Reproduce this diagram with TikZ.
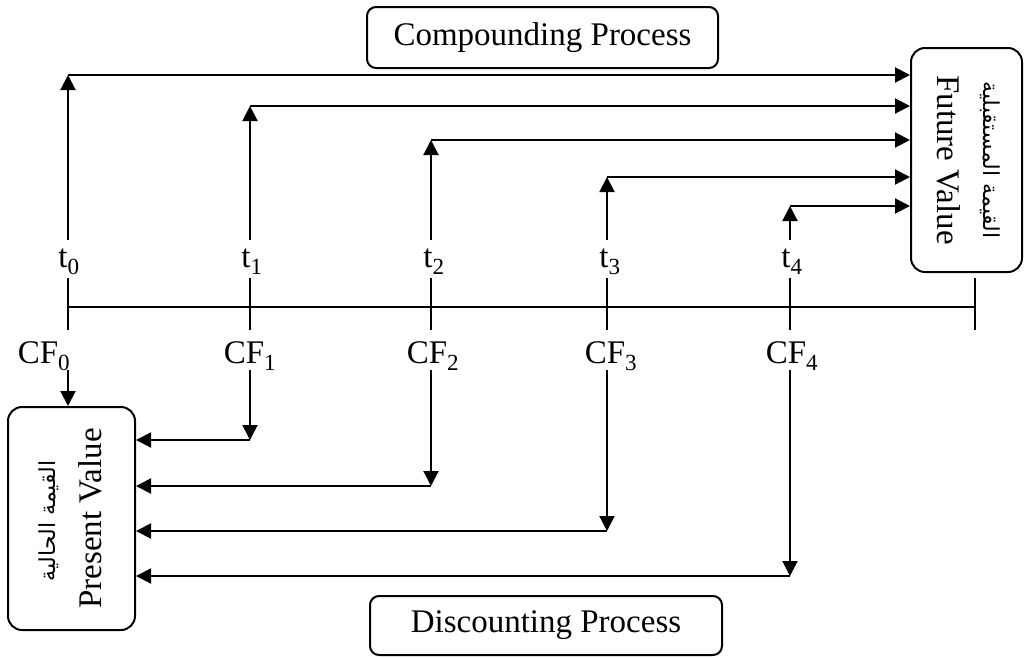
\documentclass[tikz,border=0pt]{standalone}
\usepackage{fontspec}
\setmainfont{Liberation Serif}
\newfontfamily\arabicfont[Script=Arabic]{DejaVu Sans}
\TeXXeTstate=1
\usetikzlibrary{arrows.meta}

\begin{document}
\begin{tikzpicture}[x=1pt, y=-1pt, line width=2pt,
  box/.style={draw, line width=2pt, rounded corners=14pt, inner sep=0pt},
  txt/.style={font=\fontsize{33}{38}\selectfont, inner sep=0pt},
  artxt/.style={font=\arabicfont\fontsize{22}{26}\selectfont, inner sep=0pt},
  flow/.style={-{Triangle[length=15pt,width=15pt]}},
]
\useasboundingbox (0,0) rectangle (1025,657);

% process captions
\node[box, rounded corners=9pt, minimum width=351pt, minimum height=61pt, txt]
  (comp) at (542.5,37.5) {Compounding Process};
\node[box, rounded corners=9pt, minimum width=352pt, minimum height=59pt, txt]
  (disc) at (546,625.5) {Discounting Process};

% future value box
\node[box, minimum width=111pt, minimum height=224pt] (fv) at (966.5,160) {};
\node[artxt, rotate=-90] (fvar) at (990,160) {\beginR القيمة المستقبلية\endR};
\node[txt, rotate=-90] (fven) at (949,160) {Future Value};

% present value box
\node[box, minimum width=127pt, minimum height=223pt] (pv) at (71.5,518.5) {};
\node[artxt, rotate=90] (pvar) at (49,521) {\beginR القيمة الحالية\endR};
\node[txt, rotate=90] (pven) at (90,518.5) {Present Value};

% time line with ticks
\foreach \i/\x in {0/68,1/250,2/431,3/607,4/790,5/975}{
  \coordinate (k\i) at (\x,307);
  \draw (k\i) ++(0,-29) -- ++(0,52);
}
\draw (k0) -- (k5);

% period labels and cash-flow labels
\foreach \i/\x in {0/69,1/252,2/434,3/610,4/792}{
  \node[txt] (t\i) at (\x,262) {t\textsubscript{\i}};
}
\node[txt] (cf0) at (44,356) {CF\textsubscript{0}};
\foreach \i/\x in {1/250,2/433,3/611,4/792}{
  \node[txt] (cf\i) at (\x,356) {CF\textsubscript{\i}};
}

% compounding: each period value carried forward to the future value
\foreach \i/\x/\y in {0/68/75,1/250/106,2/431/140,3/607/177,4/790/206}{
  \coordinate (s\i) at (\x,240);
  \coordinate (u\i) at (\x,\y);
  \draw[flow] (s\i) -- (u\i);
  \draw[flow] (u\i) -- (fv.west |- u\i);
}

% discounting: each cash flow brought back to the present value
\coordinate (d0) at (68,370);
\draw[flow] (d0) -- (pv.north -| d0);
\foreach \i/\x/\y in {1/250/440,2/431/486,3/607/531,4/790/576}{
  \coordinate (d\i) at (\x,370);
  \coordinate (e\i) at (\x,\y);
  \draw[flow] (d\i) -- (e\i);
  \draw[flow] (e\i) -- (pv.east |- e\i);
}
\end{tikzpicture}
\end{document}
